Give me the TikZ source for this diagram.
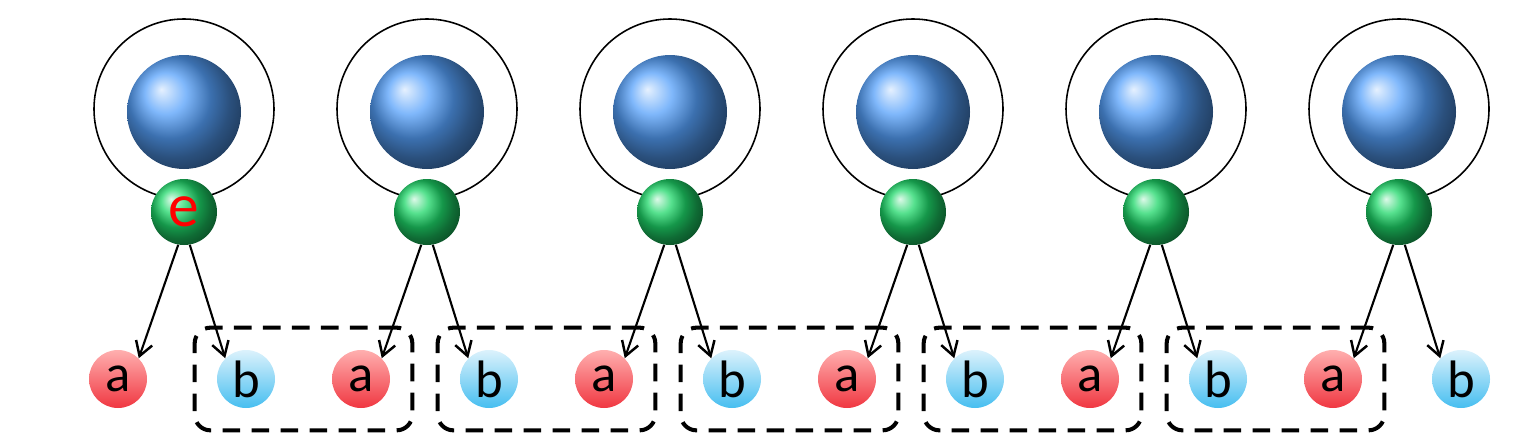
\documentclass[tikz,border=0pt]{standalone}
\usepackage{fontspec}
\setmainfont{Carlito}
\usetikzlibrary{arrows.meta, fit}
\definecolor{ionblue}{RGB}{85,160,250}
\definecolor{elgreen}{RGB}{30,215,105}
\definecolor{atop}{RGB}{255,175,175}
\definecolor{abot}{RGB}{240,55,65}
\definecolor{btop}{RGB}{220,242,252}
\definecolor{bbot}{RGB}{70,190,240}

\tikzset{
  ion/.style={circle, inner sep=0pt, minimum size=2.28cm, ball color=ionblue},
  elec/.style={circle, inner sep=0pt, minimum size=1.32cm, ball color=elgreen},
  sitea/.style={circle, inner sep=0pt, minimum size=1.16cm, top color=atop, bottom color=abot,
    font=\fontsize{30}{32}\selectfont},
  siteb/.style={circle, inner sep=0pt, minimum size=1.16cm, top color=btop, bottom color=bbot,
    font=\fontsize{30}{32}\selectfont},
  orbit/.style={line width=0.9pt},
  hop/.style={line width=1.2pt, -{Straight Barb[length=2.8mm, width=3.4mm, line width=1.4pt]}},
  pairbox/.style={draw, line width=2.3pt, dash pattern=on 10pt off 6.5pt, rounded corners=9pt,
    inner sep=0.44cm}
}

\begin{document}
\begin{tikzpicture}

\useasboundingbox (0,0) rectangle (30.78,8.94);

% Atoms: orbit, ion core, outer electron
\foreach \i in {0,...,5} {
  \pgfmathsetmacro{\xc}{3.68+4.86*\i}
  \draw[orbit] (\xc,6.76) circle (1.8cm);
  \node[ion] (nuc\i) at (\xc,6.70) {};
  \node[elec] (e\i) at (\xc,4.70) {};
}
\node[text=red, font=\fontsize{35}{37}\selectfont] at (e0) {e};

% Lattice sites below
\foreach \i in {0,...,5} {
  \pgfmathsetmacro{\xc}{3.68+4.86*\i}
  \node[sitea] (a\i) at (\xc-1.32,1.36) {a};
  \node[siteb] (b\i) at (\xc+1.24,1.36) {b};
  \draw[hop] (e\i.-100) -- (a\i.north east);
  \draw[hop] (e\i.-80) -- (b\i.north west);
}

% Dashed boxes round neighbouring b--a pairs
\foreach \i [evaluate=\i as \j using int(\i+1)] in {0,...,4} {
  \node[pairbox, fit=(b\i)(a\j)] (pair\i) {};
}

\end{tikzpicture}
\end{document}
